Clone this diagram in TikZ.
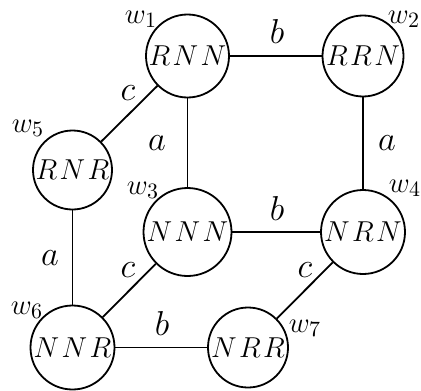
\documentclass[tikz,border=0pt]{standalone}
\newcommand{\lsp}{\mkern1.5mu}
\begin{document}
\begin{tikzpicture}[x=0.5pt,y=-0.5pt,
  world/.style={draw,circle,line width=0.9pt,inner sep=0pt,font=\fontsize{14.5}{17}\selectfont},
  edge/.style={line width=0.9pt},
  elab/.style={font=\fontsize{17}{20}\selectfont,inner sep=0pt},
  wlab/.style={font=\fontsize{15}{18}\selectfont,inner sep=0pt}]
\useasboundingbox (0,0) rectangle (421,390);
\node[world,minimum size=41.5pt] (w1) at (187.5,56) {$R\lsp N\lsp N$};
\node[world,minimum size=40.5pt] (w2) at (363,56) {$R\lsp R\lsp N$};
\node[world,minimum size=44pt] (w3) at (187.5,232) {$N\lsp N\lsp N$};
\node[world,minimum size=42pt] (w4) at (363,232) {$N\lsp R\lsp N$};
\node[world,minimum size=39.5pt] (w5) at (72.5,170) {$R\lsp N\lsp R$};
\node[world,minimum size=42pt] (w6) at (72.5,347.5) {$N\lsp N\lsp R$};
\node[world,minimum size=40pt] (w7) at (248,347.5) {$N\lsp R\lsp R$};
\node[wlab] (l1) at (141,19) {$w_1$};
\node[wlab] (l2) at (404,19) {$w_2$};
\node[wlab] (l3) at (143,190) {$w_3$};
\node[wlab] (l4) at (405,188) {$w_4$};
\node[wlab] (l5) at (28,128) {$w_5$};
\node[wlab] (l6) at (27,310) {$w_6$};
\node[wlab] (l7) at (305,328) {$w_7$};
\draw[edge] (w1) -- (w2);
\draw[edge] (w3) -- (w4);
\draw[edge] (w6) -- (w7);
\draw[edge] (w1) -- (w3);
\draw[edge] (w2) -- (w4);
\draw[edge] (w5) -- (w6);
\draw[edge] (w1) -- (w5);
\draw[edge] (w6) -- (w3);
\draw[edge] (w4) -- (w7);
\node[elab] (e1) at (277,32) {$b$};
\node[elab] (e2) at (128,93) {$c$};
\node[elab] (e3) at (157,143) {$a$};
\node[elab] (e4) at (387,143) {$a$};
\node[elab] (e5) at (277,208) {$b$};
\node[elab] (e6) at (50,258) {$a$};
\node[elab] (e7) at (128,270) {$c$};
\node[elab] (e8) at (305,270) {$c$};
\node[elab] (e9) at (162,323) {$b$};
\end{tikzpicture}
\end{document}
